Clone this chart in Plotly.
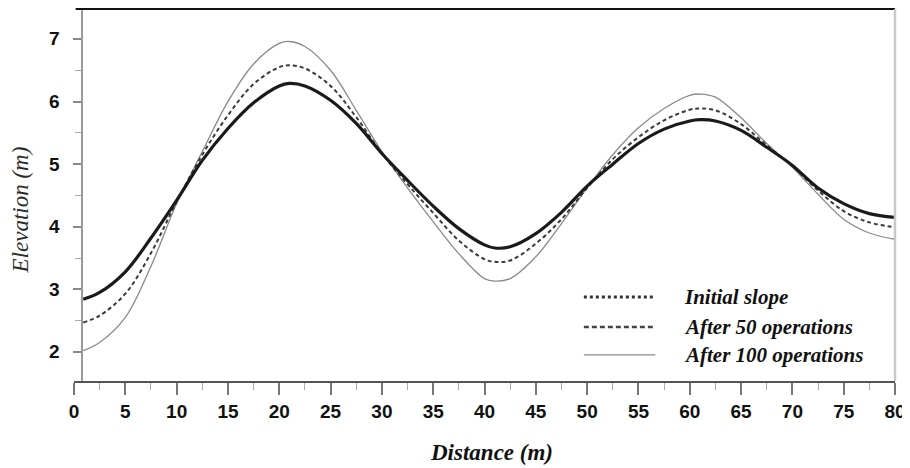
import plotly.graph_objects as go

distance = [0.9, 2.5, 5, 7.5, 10, 12.5, 15, 17.5, 20, 21, 22.5, 25, 27.5, 30, 32.5, 35,
            37.5, 40, 41, 42.5, 45, 47.5, 50, 52.5, 55, 57.5, 60, 61, 62.5, 65, 67.5,
            70, 72.5, 75, 77.5, 80]

initial_slope = [2.84, 2.95, 3.28, 3.82, 4.42, 5.06, 5.57, 5.98, 6.25, 6.29, 6.25, 6.02,
                 5.65, 5.17, 4.74, 4.33, 3.97, 3.71, 3.66, 3.68, 3.89, 4.23, 4.65, 5.00,
                 5.33, 5.56, 5.69, 5.71, 5.69, 5.54, 5.27, 4.98, 4.62, 4.37, 4.21, 4.15]

after_50 = [2.47, 2.58, 2.93, 3.58, 4.40, 5.15, 5.78, 6.28, 6.55, 6.58, 6.53, 6.25,
            5.75, 5.17, 4.68, 4.22, 3.78, 3.48, 3.44, 3.46, 3.73, 4.12, 4.62, 5.08,
            5.43, 5.70, 5.87, 5.89, 5.86, 5.64, 5.30, 4.97, 4.58, 4.25, 4.07, 3.99]

after_100 = [2.02, 2.15, 2.55, 3.37, 4.37, 5.20, 6.00, 6.60, 6.93, 6.96, 6.88, 6.50,
             5.86, 5.20, 4.62, 4.08, 3.57, 3.17, 3.13, 3.17, 3.52, 4.05, 4.62, 5.15,
             5.58, 5.89, 6.10, 6.12, 6.07, 5.74, 5.33, 4.95, 4.52, 4.12, 3.90, 3.80]

series_names = ["Initial slope", "After 50 operations", "After 100 operations"]
x_ticks = list(range(0, 81, 5))
y_ticks = [2, 3, 4, 5, 6, 7]
y_range = [1.535, 7.479]

fig = go.Figure()
fig.add_trace(go.Scatter(x=distance, y=after_100, mode="lines", name=series_names[2],
                         line=dict(color="#8a8a8a", width=1.3, shape="spline", smoothing=1.0),
                         showlegend=False))
fig.add_trace(go.Scatter(x=distance, y=after_50, mode="lines", name=series_names[1],
                         line=dict(color="#3a3a3a", width=2, dash="4px,3px", shape="spline", smoothing=1.0),
                         showlegend=False))
fig.add_trace(go.Scatter(x=distance, y=initial_slope, mode="lines", name=series_names[0],
                         line=dict(color="#1a1a1a", width=3.2, shape="spline", smoothing=1.0),
                         showlegend=False))

# manual legend
leg_x0, leg_x1, leg_tx = 0.621, 0.708, 0.740
leg_rows = [0.226, 0.145, 0.070]
leg_styles = [dict(color="#333333", width=3, dash="dot"),
              dict(color="#444444", width=2.5, dash="5px,3px"),
              dict(color="#8a8a8a", width=1.3)]
shapes = []
annotations = []
for name, yy, st in zip(series_names, leg_rows, leg_styles):
    shapes.append(dict(type="line", xref="paper", yref="paper", x0=leg_x0, x1=leg_x1,
                       y0=yy, y1=yy, line=st))
    annotations.append(dict(xref="paper", yref="paper", x=leg_tx, y=yy, text="<b>" + name + "</b>",
                            showarrow=False, xanchor="left", yanchor="middle",
                            font=dict(family="Liberation Serif", size=21, color="#111111", style="italic")))

# y tick labels placed on the y scale, just left of the tick marks
for v in y_ticks:
    annotations.append(dict(xref="paper", yref="y", x=-0.0146, y=v, text="<b>" + str(v) + "</b>",
                            showarrow=False, xanchor="right", yanchor="middle",
                            font=dict(family="Liberation Sans", size=19, color="#111111")))

# top border and right border
shapes.append(dict(type="line", xref="paper", yref="paper", x0=0.002, x1=1.0, y0=1, y1=1,
                   line=dict(color="#111111", width=2)))
shapes.append(dict(type="line", xref="paper", yref="paper", x0=1.0, x1=1.0, y0=0, y1=1,
                   line=dict(color="#c8c8c8", width=2.5)))

annotations.append(dict(xref="paper", yref="paper", x=0.508, y=-0.1935, text="<b>Distance (m)</b>",
                        showarrow=False, xanchor="center", yanchor="middle",
                        font=dict(family="Liberation Serif", size=23, color="#111111", style="italic")))
annotations.append(dict(xref="paper", yref="paper", x=-0.0646, y=0.461, text="Elevation (m)",
                        showarrow=False, xanchor="center", yanchor="middle", textangle=-90,
                        font=dict(family="Liberation Serif", size=23, color="#2a2a2a", style="italic")))

fig.update_layout(
    width=902, height=460,
    margin=dict(l=66, r=15, t=1, b=87),
    paper_bgcolor="white", plot_bgcolor="white",
    shapes=shapes, annotations=annotations,
    xaxis=dict(range=[0, 80], tickvals=x_ticks, ticktext=[str(v) for v in x_ticks],
               showgrid=False, zeroline=False, showline=True, linecolor="#555555", linewidth=1.5,
               ticks="outside", ticklen=12, tickwidth=1.5, tickcolor="#777777",
               minor=dict(dtick=2.5, tick0=0, ticks="outside", ticklen=7, tickwidth=1.2, tickcolor="#aaaaaa"),
               tickfont=dict(family="Liberation Sans", size=19, color="#111111", weight="bold")),
    yaxis=dict(range=y_range, tickvals=y_ticks, anchor="free", position=0.0097,
               side="left", showticklabels=False,
               showgrid=False, zeroline=False, showline=True, linecolor="#9a9a9a", linewidth=2,
               ticks="outside", ticklen=8, tickwidth=1.5, tickcolor="#888888",
               minor=dict(dtick=0.5, tick0=0, ticks="outside", ticklen=6, tickwidth=1.2, tickcolor="#aaaaaa")),
)

fig.write_html("out.html")
